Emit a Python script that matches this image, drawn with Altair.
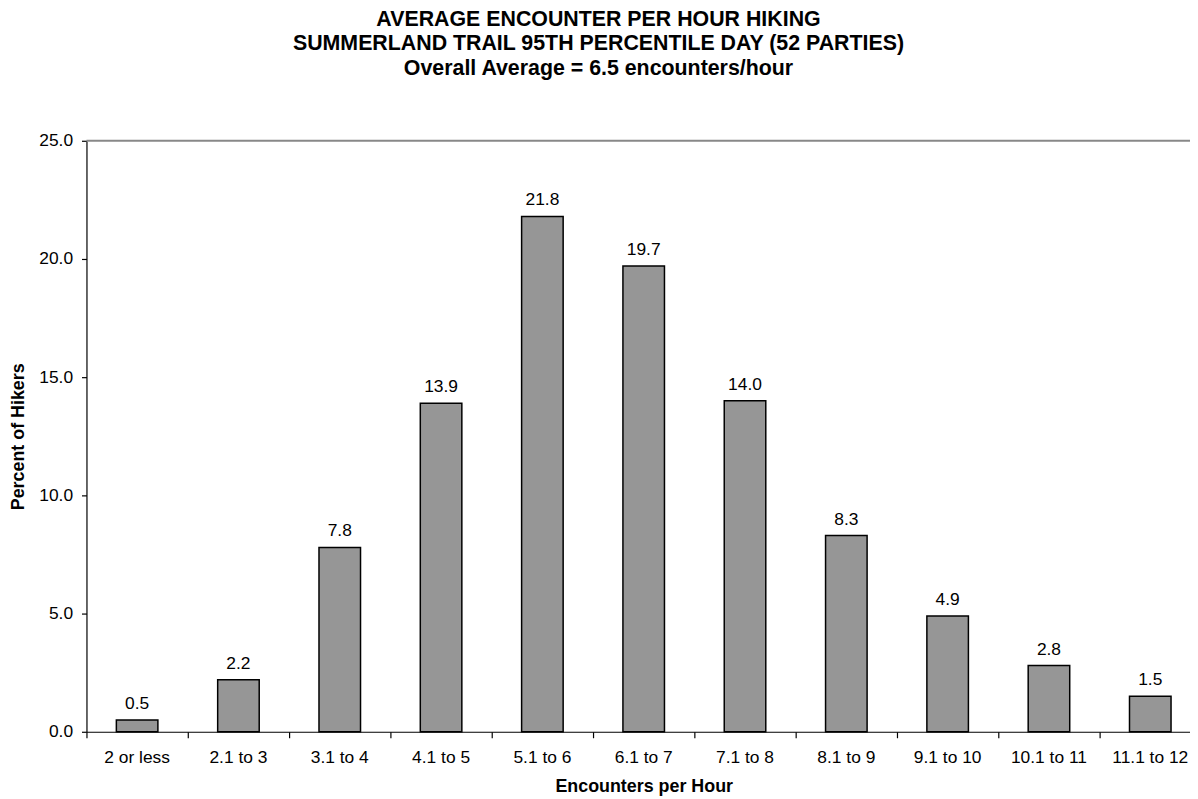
import altair as alt
import pandas as pd

categories = ["2 or less", "2.1 to 3", "3.1 to 4", "4.1 to 5", "5.1 to 6", "6.1 to 7",
              "7.1 to 8", "8.1 to 9", "9.1 to 10", "10.1 to 11", "11.1 to 12"]
percent = [0.5, 2.2, 7.8, 13.9, 21.8, 19.7, 14.0, 8.3, 4.9, 2.8, 1.5]
y_ticks = [0, 5, 10, 15, 20, 25]

title_lines = ["AVERAGE ENCOUNTER PER HOUR HIKING",
               "SUMMERLAND TRAIL 95TH PERCENTILE DAY (52 PARTIES)",
               "Overall Average = 6.5 encounters/hour"]

df = pd.DataFrame({"cat": categories, "pct": percent})
FONT = "Liberation Sans"

x_enc = alt.X("cat:N", sort=categories,
              scale=alt.Scale(range=[0, 1122], paddingInner=0, paddingOuter=0),
              axis=alt.Axis(title="Encounters per Hour", bandPosition=0,
                            labelAngle=0, labelFontSize=17.5, labelColor="black",
                            labelPadding=11, tickSize=6, tickColor="black",
                            domainColor="black", domainWidth=1.2, tickWidth=1.2,
                            titleFontSize=18, titleFontWeight="bold", titleColor="black",
                            titleX=561, titleY=55, titleBaseline="middle", grid=False))
y_enc = alt.Y("pct:Q",
              scale=alt.Scale(domain=[0, 25], nice=False),
              axis=alt.Axis(title="Percent of Hikers", values=y_ticks, format=".1f",
                            labelFontSize=17.5, labelColor="black", labelPadding=9,
                            tickSize=5, tickColor="black", tickWidth=1.2,
                            domainColor="black", domainWidth=1.2,
                            titleFontSize=18, titleFontWeight="bold", titleColor="black",
                            titleX=-68, titleBaseline="middle", grid=False))

bars = alt.Chart(df).mark_bar(width=alt.RelativeBandSize(0.41), color="#969696",
                              stroke="black", strokeWidth=1.5).encode(x=x_enc, y=y_enc)

labels = alt.Chart(df).mark_text(baseline="bottom", dy=-7, fontSize=17.5, font=FONT,
                                 color="black").encode(
    x=alt.X("cat:N", sort=categories),
    y=alt.Y("pct:Q"),
    text=alt.Text("pct:Q", format=".1f"))

top_df = pd.DataFrame({"v": [25]})
top_line = alt.Chart(top_df).mark_rule(color="#888888", strokeWidth=2).encode(
    y=alt.Y("v:Q"), x=alt.value(0), x2=alt.value(1122))

chart = alt.layer(top_line, bars, labels).properties(
    width=1103, height=595,
    title=alt.TitleParams(text=title_lines, fontSize=21.5, fontWeight="bold", font=FONT,
                          color="black", lineHeight=24.5, anchor="middle", dx=-36,
                          offset=53),
    autosize=alt.AutoSizeParams(type="none"),
    padding={"left": 79, "top": 131, "right": 8, "bottom": 64},
).configure(font=FONT).configure_view(stroke=None)

chart.save("out.html", embed_options={"renderer": "svg", "actions": False})
